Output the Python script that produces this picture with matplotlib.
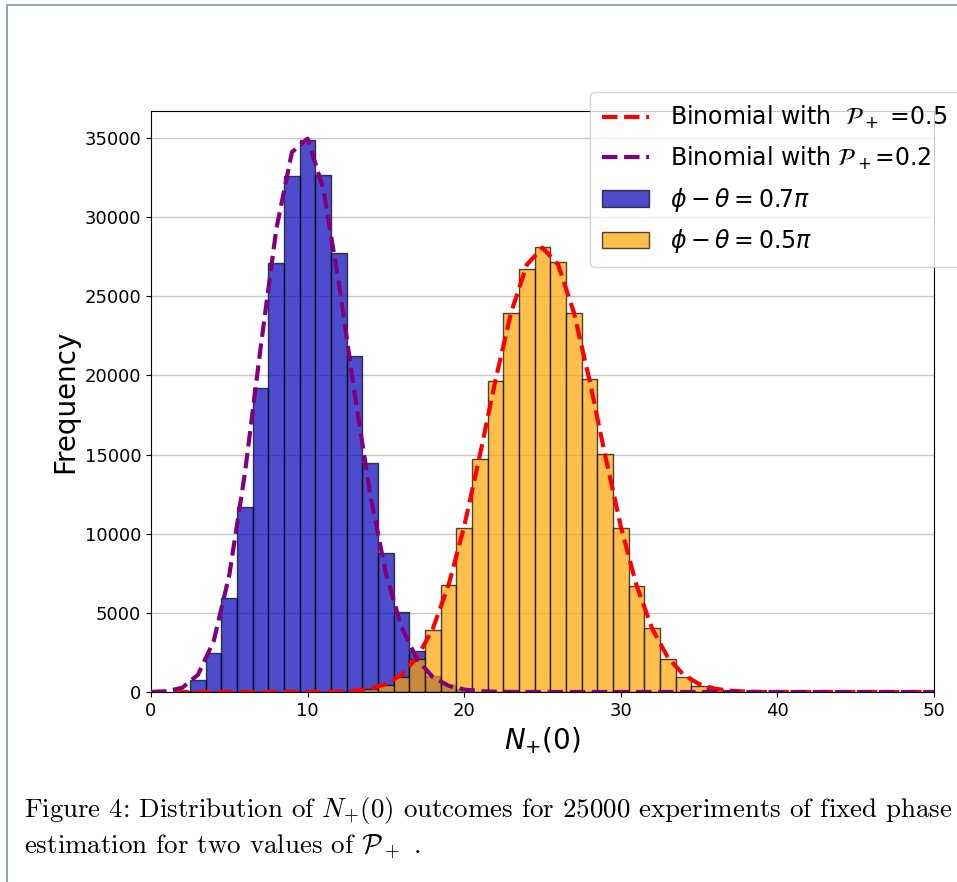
import matplotlib.pyplot as plt
from matplotlib.patches import Rectangle, Patch
from matplotlib.lines import Line2D

# outcome values of N+(0)
n_blue = list(range(2, 21))
blue_counts = [50, 760, 2480, 5920, 11700, 19190, 27120, 32600, 34870, 32680,
               27750, 21230, 14490, 8760, 5050, 2580, 1000, 420, 160]

n_orange = list(range(14, 38))
orange_counts = [190, 440, 970, 2060, 3900, 6760, 10380, 14700, 19670, 23960,
                 26700, 28130, 27140, 23960, 19750, 15030, 10380, 6720, 4020,
                 2100, 970, 400, 190, 60]

# binomial reference curves, read at k = 0..50
k_vals = list(range(0, 51))
curve_02 = [4, 45, 273, 1093, 3210, 7383, 13842, 21752, 29230, 34102, 34956,
            31778, 25820, 18868, 12466, 7480, 4091, 2045, 937, 395, 153, 55,
            18, 5, 1] + [0] * 26
curve_05 = [0] * 12 + [27, 79, 208, 500, 1094, 2187, 4010, 6753, 10465, 14950,
                       19708, 23990, 26990, 28070, 26990, 23990, 19708, 14950,
                       10465, 6753, 4010, 2187, 1094, 500, 208, 79, 27] + [0] * 12

W, H = 957, 882
fig = plt.figure(figsize=(W / 100, H / 100), dpi=100)
ax = fig.add_axes([151 / W, 1 - 692 / H, (934 - 151) / W, (692 - 111) / H])

ax.bar(n_blue, blue_counts, width=1, color=(0, 0, 0.72), alpha=0.7,
       edgecolor='black', linewidth=1, zorder=2)
ax.bar(n_orange, orange_counts, width=1, color='orange', alpha=0.7,
       edgecolor='black', linewidth=1, zorder=2)
ax.plot(k_vals, curve_05, '--', color='red', lw=3, zorder=3)
ax.plot(k_vals, curve_02, '--', color='purple', lw=3, zorder=3)

ax.set_xlim(0, 50)
ax.set_ylim(0, 36700)
ax.set_yticks(range(0, 35001, 5000))
ax.set_xticks(range(0, 51, 10))
ax.tick_params(labelsize=13)
ax.set_axisbelow(True)
ax.yaxis.grid(True, color='#c8c8c8', lw=1)
ax.set_xlabel(r'$N_{+}(0)$', fontsize=20)
ax.set_ylabel('Frequency', fontsize=20)

handles = [Line2D([], [], ls='--', color='red', lw=3),
           Line2D([], [], ls='--', color='purple', lw=3),
           Patch(facecolor=(0, 0, 0.72), alpha=0.7, edgecolor='black'),
           Patch(facecolor='orange', alpha=0.7, edgecolor='black')]
labels = [r'Binomial with  $\mathcal{P}_+$ =0.5',
          r'Binomial with $\mathcal{P}_+$=0.2',
          r'$\phi - \theta = 0.7\pi$',
          r'$\phi - \theta = 0.5\pi$']
ax.legend(handles, labels, loc='upper left', bbox_to_anchor=(590 / W, 1 - 92 / H),
          bbox_transform=fig.transFigure, borderaxespad=0, fontsize=17,
          labelspacing=0.58, borderpad=0.5, handletextpad=0.9)

# caption below the figure
cap_kw = dict(fontsize=19.4, family='cmr10', math_fontfamily='cm', va='center')
fig.text(24 / W, 1 - 811 / H,
         r'Figure 4: Distribution of $N_{+}(0)$ outcomes for 25000 experiments of fixed phase',
         **cap_kw)
fig.text(24 / W, 1 - 847 / H,
         r'estimation for two values of $\mathcal{P}_+$ .', **cap_kw)

# page frame
fig.patches.append(Rectangle((7 / W, -0.05), 1.1, 1.05 - 5 / H, transform=fig.transFigure,
                             fill=False, edgecolor='#7d93ad', lw=1.2))

fig.savefig('out.png', dpi=100)
